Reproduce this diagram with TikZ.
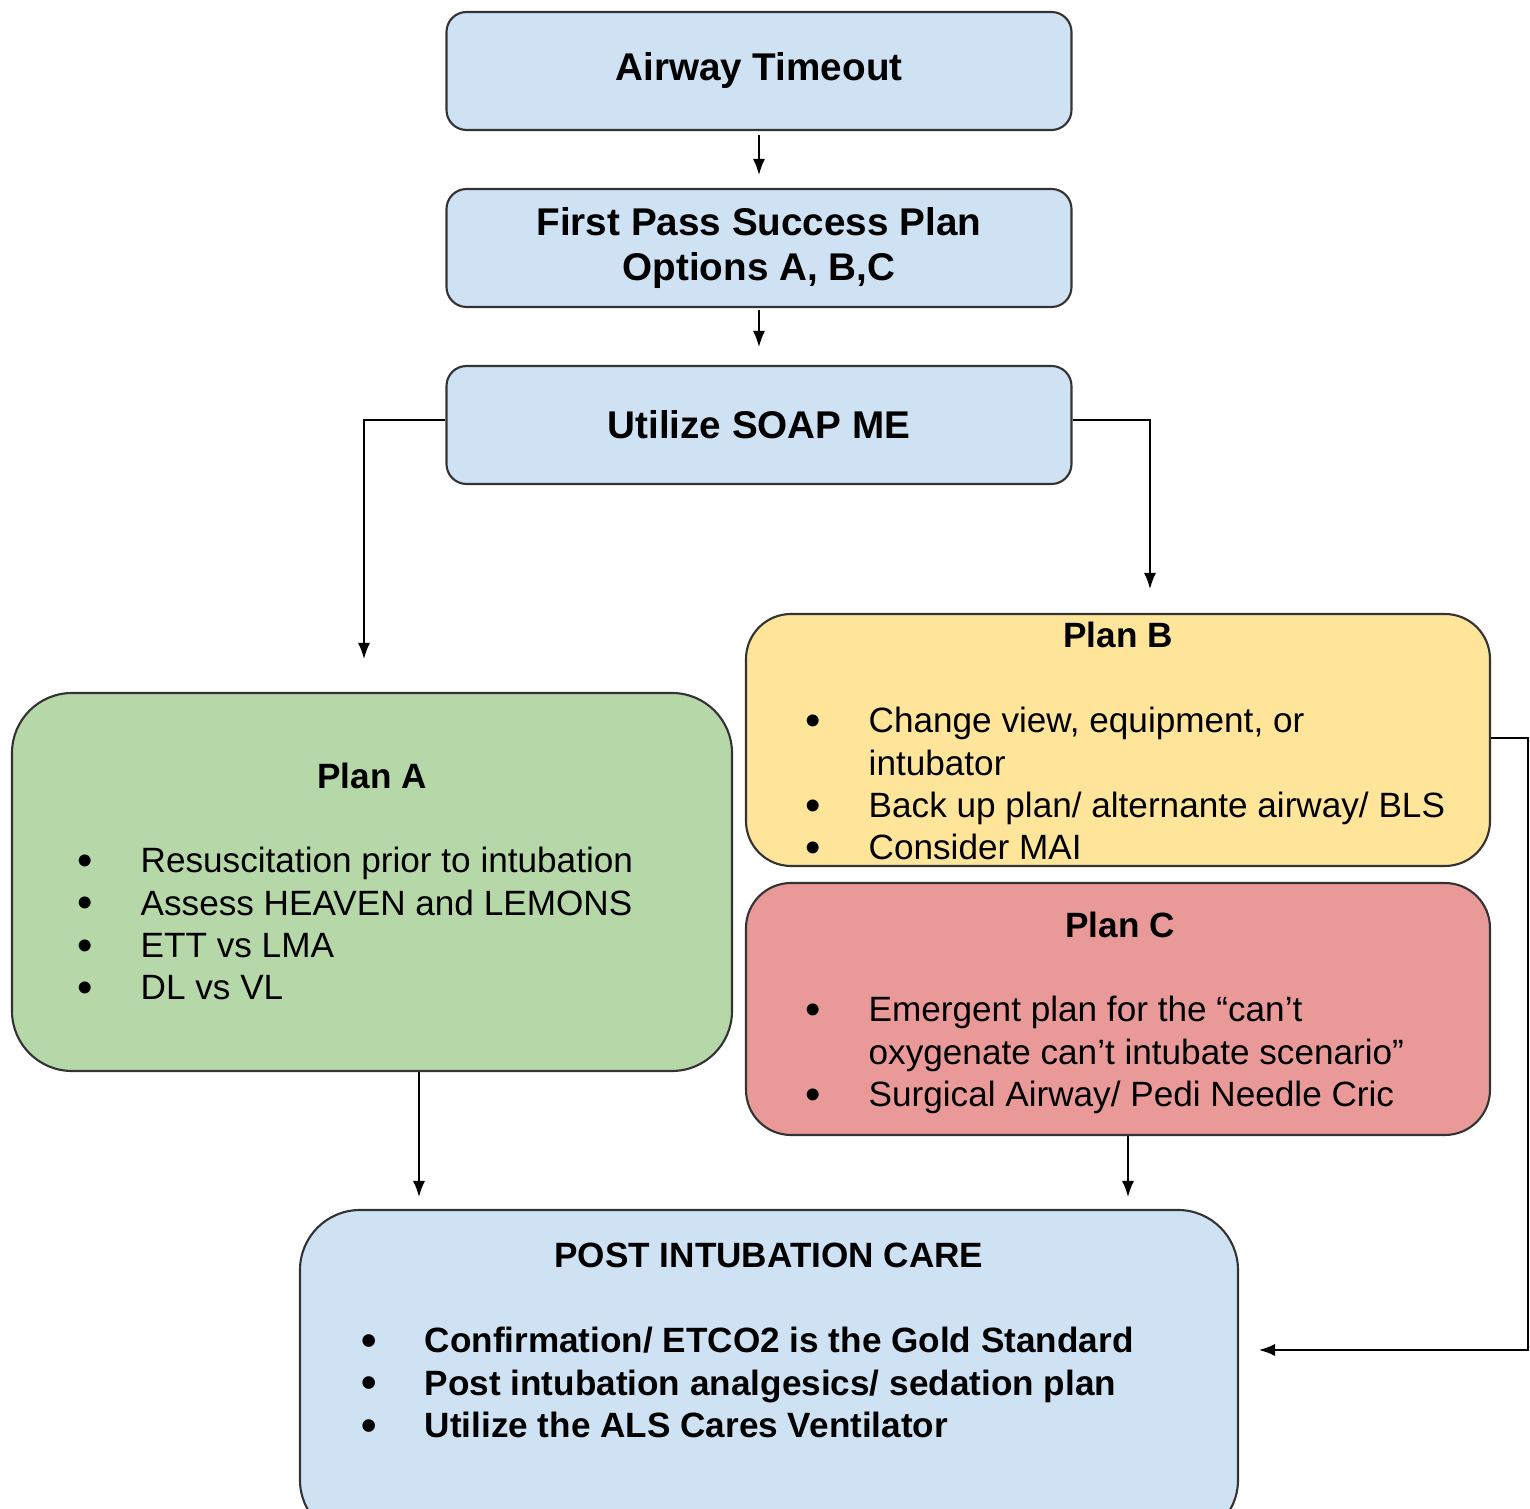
\documentclass[tikz,border=0pt]{standalone}
\usepackage{fontspec}
\setmainfont{Liberation Sans}
\usetikzlibrary{arrows.meta}
\definecolor{boxblue}{HTML}{CFE2F3}
\definecolor{boxgreen}{HTML}{B6D7A8}
\definecolor{boxyellow}{HTML}{FFE599}
\definecolor{boxred}{HTML}{EA9999}
\newcommand\bul{\smash{\raisebox{-0.8pt}{\fontsize{12.5}{12}\selectfont\textbullet}}}
\newcommand\planlist[1]{\begin{tabular}[t]{@{}p{6.3mm}@{}l@{}}#1\end{tabular}}

\begin{document}
\begin{tikzpicture}[x=0.1mm,y=-0.1mm,font=\fontsize{10}{12}\selectfont]
% Box and text styles
\tikzstyle{flow box}=[draw=black!80,line width=0.6pt,fill=boxblue,rounded corners=2mm,minimum width=62.5mm,minimum height=11.8mm,inner sep=0,align=center,font=\fontsize{11}{13}\selectfont\bfseries];
\tikzstyle{plan box}=[draw=black!80,line width=0.6pt,inner sep=0];
\tikzstyle{plan title}=[anchor=base,inner sep=0,font=\fontsize{10}{12}\selectfont\bfseries];
\tikzstyle{plan list}=[anchor=base west,inner sep=0];
\tikzstyle{link}=[draw,line width=0.4pt,-{Latex[length=1.6mm,width=1.2mm]}];
\useasboundingbox (0,0) rectangle (1530,1509);
% The top column
\node[flow box] (timeout) at (759,71) {Airway Timeout};
\node[flow box] (firstpass) at (759,248) {First Pass Success Plan\\Options A, B,C};
\node[flow box] (soap) at (759,425) {Utilize SOAP ME};
% The plans
\node[plan box,fill=boxgreen,rounded corners=6mm,minimum width=72mm,minimum height=37.8mm] (planA) at (372,882) {};
\node[plan box,fill=boxyellow,rounded corners=4.5mm,minimum width=74.4mm,minimum height=25.2mm] (planB) at (1118,740) {};
\node[plan box,fill=boxred,rounded corners=4.5mm,minimum width=74.4mm,minimum height=25.2mm] (planC) at (1118,1009) {};
\node[plan box,fill=boxblue,rounded corners=6mm,minimum width=93.8mm,minimum height=33mm] (post) at (769,1375) {};
\node[plan title] (planA title) at (372,789) {Plan A};
\node[plan title] (planB title) at (1118,648) {Plan B};
\node[plan title] (planC title) at (1120,938) {Plan C};
\node[plan title] (post title) at (769,1268) {POST INTUBATION CARE};
\node[plan list] (planA list) at (77,873) {\planlist{
\bul & Resuscitation prior to intubation\\
\bul & Assess HEAVEN and LEMONS\\
\bul & ETT vs LMA\\
\bul & DL vs VL}};
\node[plan list] (planB list) at (805,733) {\planlist{
\bul & Change view, equipment, or\\
 & intubator\\
\bul & Back up plan/ alternante airway/ BLS\\
\bul & Consider MAI}};
\node[plan list] (planC list) at (805,1022) {\planlist{
\bul & Emergent plan for the “can’t\\
 & oxygenate can’t intubate scenario”\\
\bul & Surgical Airway/ Pedi Needle Cric}};
\node[plan list,font=\fontsize{10}{12}\selectfont\bfseries] (post list) at (361,1353) {\planlist{
\bul & Confirmation/ ETCO2 is the Gold Standard\\
\bul & Post intubation analgesics/ sedation plan\\
\bul & Utilize the ALS Cares Ventilator}};
% Connectors
\coordinate (a in) at ([xshift=-0.8mm]planA.north);
\coordinate (b in) at ([xshift=3.2mm]planB.north);
\coordinate (a out) at ([xshift=4.7mm]planA.south);
\coordinate (c out) at ([xshift=1mm]planC.south);
\coordinate (b turn) at (1528,738);
\draw[link,shorten <=0.4mm,shorten >=1.3mm] (timeout) -- (firstpass);
\draw[link,shorten <=0.2mm,shorten >=1.8mm] (firstpass) -- (soap);
\draw[link,shorten >=3.3mm] ([yshift=0.5mm]soap.west) -| (a in);
\draw[link,shorten >=2.4mm] ([yshift=0.5mm]soap.east) -| (b in);
\draw[link,shorten >=1.2mm] (a out) -- (a out |- post.north);
\draw[link,shorten >=1.2mm] (c out) -- (c out |- post.north);
\draw[link,shorten >=2mm] (planB.east |- b turn) -- (b turn) |- ([yshift=2.5mm]post.east);
\end{tikzpicture}
\end{document}
